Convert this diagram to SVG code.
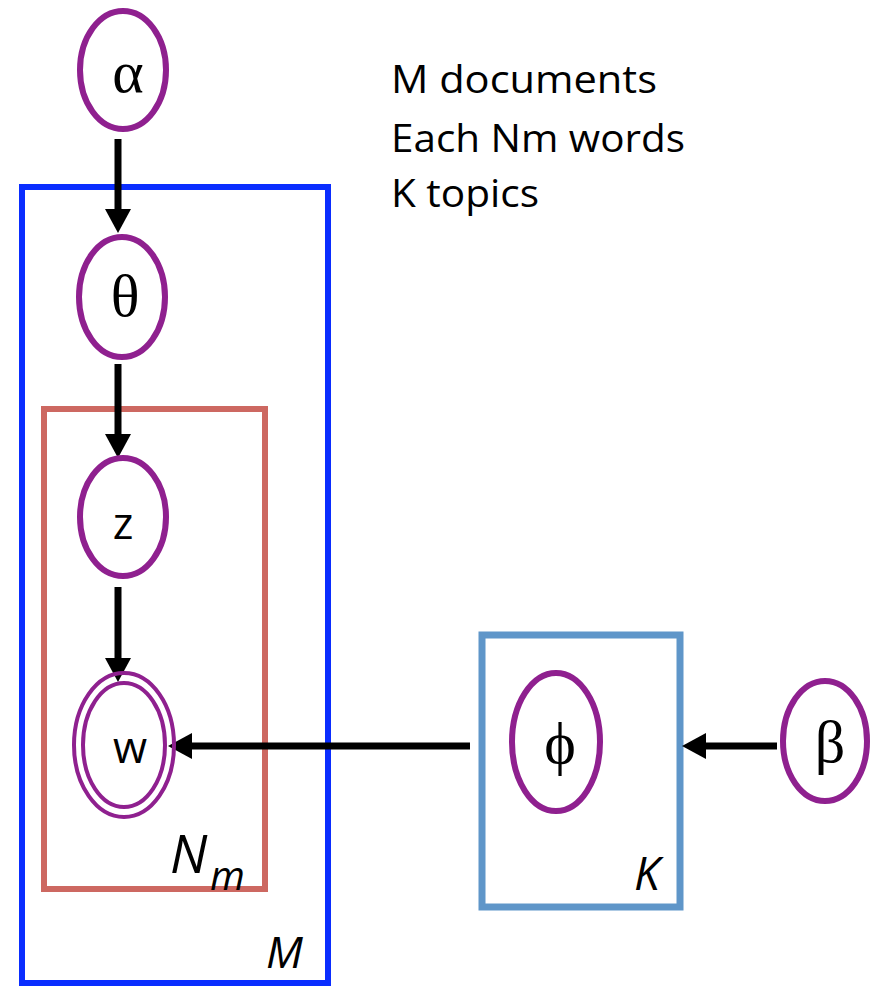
<svg xmlns="http://www.w3.org/2000/svg" width="871" height="987" viewBox="0 0 871 987">
<style>
.node{fill:#fff;stroke:#8f208f;stroke-width:6}
.node2{fill:none;stroke:#8f208f;stroke-width:4}
.greek{font-family:"Liberation Serif",serif;font-size:60px;fill:#000;text-anchor:middle}
.sans{font-family:"Open Sans","Liberation Sans",sans-serif;fill:#000}
.it{font-style:italic}
.conn{stroke:#000;stroke-width:7;fill:none;marker-end:url(#ah)}
</style>
<defs>
<marker id="ah" markerUnits="userSpaceOnUse" markerWidth="24" markerHeight="26" viewBox="0 0 24 26" refX="12" refY="13" orient="auto">
<path d="M0,0 L24,13 L0,26 z" fill="#000"/>
</marker>
</defs>
<rect width="871" height="987" fill="#fff"/>
<g id="plates">
<rect id="plate-M" x="22" y="187" width="306" height="796" fill="none" stroke="#0a2dff" stroke-width="6"/>
<rect id="plate-N" x="44" y="409" width="221" height="480" fill="none" stroke="#cd6861" stroke-width="6"/>
<rect id="plate-K" x="482" y="635" width="198" height="272" fill="none" stroke="#5f96c9" stroke-width="7"/>
<text class="sans it" x="170" y="873" font-size="53">N</text>
<text class="sans it" x="210" y="890" font-size="40">m</text>
<text class="sans it" x="266" y="968" font-size="44">M</text>
<text class="sans it" x="634" y="890" font-size="46">K</text>
</g>
<g id="connectors">
<line class="conn" x1="118" y1="139" x2="118" y2="221"/>
<line class="conn" x1="118" y1="364" x2="118" y2="446"/>
<line class="conn" x1="118" y1="587" x2="118" y2="670"/>
<line class="conn" x1="470" y1="746" x2="180" y2="746"/>
<line class="conn" x1="777" y1="746" x2="694" y2="746"/>
</g>
<g id="alpha"><ellipse class="node" cx="123" cy="70" rx="43" ry="59"/><text class="greek" x="128" y="92">α</text></g>
<g id="theta"><ellipse class="node" cx="122" cy="297" rx="43" ry="60"/><text class="greek" x="125" y="316">θ</text></g>
<g id="z"><ellipse class="node" cx="123" cy="517" rx="43" ry="59"/><text class="sans" x="123" y="539" font-size="44" text-anchor="middle">z</text></g>
<g id="w"><ellipse class="node2" cx="124" cy="745" rx="50" ry="72"/><ellipse class="node2" cx="124" cy="745" rx="41" ry="62"/><text class="sans" x="130" y="763" font-size="44" text-anchor="middle">w</text></g>
<g id="phi"><ellipse class="node" cx="556" cy="742" rx="44" ry="69"/><text class="greek" x="560" y="763">ϕ</text></g>
<g id="beta"><ellipse class="node" cx="825" cy="741" rx="42" ry="60"/><text class="greek" x="830" y="762">β</text></g>
<g id="legend" class="sans" font-size="39">
<text x="391" y="93" textLength="266" lengthAdjust="spacingAndGlyphs">M documents</text>
<text x="391" y="152" textLength="294" lengthAdjust="spacingAndGlyphs">Each Nm words</text>
<text x="391" y="207" textLength="148" lengthAdjust="spacingAndGlyphs">K topics</text>
</g>
</svg>
